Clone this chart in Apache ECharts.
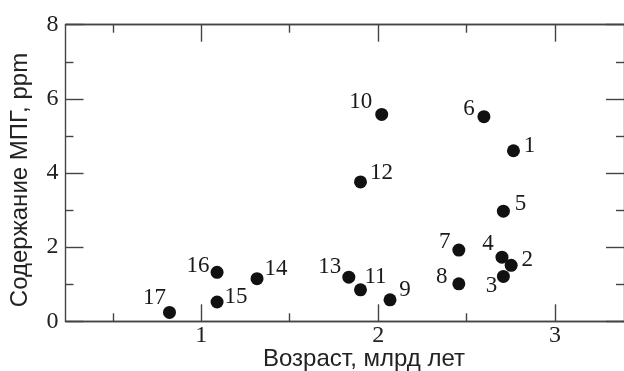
<!DOCTYPE html>
<html><head><meta charset="utf-8">
<script src="https://cdn.jsdelivr.net/npm/echarts@6/dist/echarts.min.js"></script>
<style>html,body{margin:0;padding:0;background:#fff}#c{width:624px;height:371px}</style>
</head><body><div id="c"></div>
<script>
// Data: age (billion years), PGE content (ppm), sample number
const ages   = [2.765, 2.752, 2.708, 2.700, 2.708, 2.598, 2.456, 2.456, 2.067, 2.020, 1.900, 1.900, 1.834, 1.315, 1.089, 1.089, 0.820];
const values = [4.60, 1.51, 1.21, 1.73, 2.97, 5.52, 1.92, 1.01, 0.58, 5.58, 0.85, 3.76, 1.19, 1.15, 0.52, 1.32, 0.24];
const sampleLabels = ['1','2','3','4','5','6','7','8','9','10','11','12','13','14','15','16','17'];
const xMajorTicks = [1, 2, 3];
const xMinorTicks = [0.5, 1.5, 2.5];
const yTickLabels = [0, 2, 4, 6, 8];
// label placement (style): [dx, dy] relative to point
const labelOffsets = [[16,-5],[16,-5],[-12,10],[-14,-13],[17,-7],[-15,-8],[-14,-8],[-17,-7],[15,-10],[-21,-12],[15,-13],[21,-9],[-19,-10],[19,-10],[19,-5],[-19,-6],[-15,-14]];

const XMIN = 0.232, XMAX = 3.39;
const axisColor = '#444';
const serif = 'Liberation Serif';

function xAx(pos, ticks, len, labels) {
  return {
    type: 'value', position: pos, min: XMIN, max: XMAX,
    axisLine: {show: true, lineStyle: {color: axisColor, width: 1.4}},
    axisTick: {show: true, inside: true, length: len, customValues: ticks, lineStyle: {color: axisColor, width: 1.4}},
    axisLabel: labels ? {show: true, customValues: ticks, margin: 2, fontFamily: serif, fontSize: 24, color: '#222'} : {show: false},
    splitLine: {show: false}
  };
}
function yAx(pos, labels) {
  return {
    type: 'value', position: pos, min: 0, max: 8, interval: 2,
    axisLine: {show: true, lineStyle: {color: axisColor, width: 1.4}},
    axisTick: {show: true, inside: true, length: 18, lineStyle: {color: axisColor, width: 1.4}},
    minorTick: {show: true, splitNumber: 2, length: 8, lineStyle: {color: axisColor, width: 1.4}},
    axisLabel: labels ? {show: true, margin: 7, fontFamily: serif, fontSize: 24, color: '#222'} : {show: false},
    splitLine: {show: false}
  };
}

const chart = echarts.init(document.getElementById('c'), null, {renderer: 'canvas'});
chart.setOption({
  animation: false,
  backgroundColor: '#fff',
  grid: {left: 65.5, top: 24.7, right: -7, bottom: 49.7, containLabel: false},
  xAxis: [
    xAx('bottom', xMajorTicks, 17, true),
    xAx('bottom', xMinorTicks, 8, false),
    xAx('top', xMajorTicks, 17, false),
    xAx('top', xMinorTicks, 8, false)
  ],
  yAxis: [yAx('left', true), yAx('right', false)],
  graphic: [
    {type: 'text', x: 364, y: 359, style: {text: 'Возраст, млрд лет', font: '24px "Liberation Sans"', fill: '#222', textAlign: 'center', textVerticalAlign: 'middle'}},
    {type: 'text', x: 20, y: 180, rotation: Math.PI / 2, style: {text: 'Содержание МПГ, ppm', font: '24px "Liberation Sans"', fill: '#222', textAlign: 'center', textVerticalAlign: 'middle'}}
  ],
  series: [{
    type: 'scatter', xAxisIndex: 0, yAxisIndex: 0,
    symbol: 'circle', symbolSize: 13,
    itemStyle: {color: '#111', opacity: 1},
    data: ages.map((a, i) => ({
      value: [a, values[i]],
      label: {show: true, formatter: sampleLabels[i], position: 'inside', offset: labelOffsets[i],
        fontFamily: serif, fontSize: 23, color: '#1a1a1a'}
    }))
  }]
});
</script></body></html>
